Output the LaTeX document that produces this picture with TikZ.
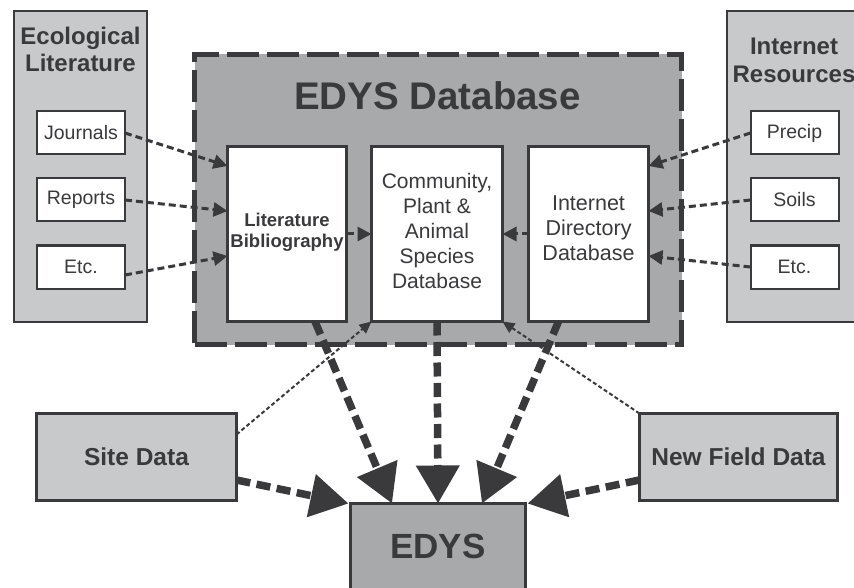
\documentclass[tikz,border=0pt]{standalone}
\usepackage{fontspec}
\setmainfont{Liberation Sans}
\usetikzlibrary{arrows.meta}
\definecolor{dk}{HTML}{3A3A3C}
\definecolor{lightg}{HTML}{C8C9CB}
\definecolor{midg}{HTML}{A8A9AB}
\tikzset{
  panel/.style={draw=dk, line width=2.5pt, fill=lightg, inner sep=0pt, outer sep=0pt},
  srcbox/.style={draw=dk, line width=2pt, fill=white, minimum width=88pt, minimum height=43pt,
    inner sep=0pt, outer sep=0pt, font=\fontsize{19.5}{22}\selectfont, text=dk},
  dbbox/.style={draw=dk, line width=3pt, fill=white, inner sep=0pt, outer sep=0pt, minimum height=175pt},
  txt/.style={text=dk, inner sep=0pt, align=center},
  smallarr/.style={draw=dk, line width=3pt, dash pattern=on 7pt off 4pt, -{Triangle[length=14pt,width=14pt]}},
  thinarr/.style={draw=dk, line width=2pt, dash pattern=on 4pt off 2.5pt, -{Triangle[length=12pt,width=11pt]}},
  bigarr/.style={draw=dk, line width=7.5pt, dash pattern=on 14pt off 6.5pt, -{Triangle[length=38pt,width=42pt]}},
}
\begin{document}
\begin{tikzpicture}[x=1pt,y=-1pt]
\useasboundingbox (0,0) rectangle (854,588);
\fill[white] (0,0) rectangle (854,588);

% left panel
\node[panel, minimum width=133pt, minimum height=311pt] (eco) at (80.5,166.5) {};
\node[txt, font=\bfseries\fontsize{24}{27}\selectfont] (ecoT) at (80.5,49.75) {Ecological\\Literature};
\node[srcbox] (j) at (81,133) {Journals};
\node[srcbox] (r) at (81,200) {Reports};
\node[srcbox] (e1) at (81,267) {Etc.};

% right panel
\node[panel, minimum width=140pt, minimum height=311pt] (inr) at (797,166.5) {};
\node[txt, font=\bfseries\fontsize{24}{28}\selectfont] (inrT) at (794,60.25) {Internet\\Resources};
\node[srcbox] (p) at (794.5,133) {Precip};
\node[srcbox] (s) at (794.5,200) {Soils};
\node[srcbox] (e2) at (794.5,267) {Etc.};

% database
\node[draw=dk, line width=5pt, dash pattern=on 32pt off 8pt, fill=midg, minimum width=487pt, minimum height=290pt, inner sep=0pt, outer sep=0pt] (db) at (438,199.5) {};
\node[text=dk, inner sep=0pt, anchor=base, font=\bfseries\fontsize{38.5}{40}\selectfont] (dbT) at (437.5,110) {EDYS Database};

\node[dbbox, minimum width=119pt] (lit) at (287,234) {};
\node[txt, font=\bfseries\fontsize{18.5}{21}\selectfont] (litT) at (287,232.7) {Literature\\Bibliography};
\node[dbbox, minimum width=131pt] (com) at (437,234) {};
\node[txt, font=\fontsize{21}{25}\selectfont] (comT) at (437,230.5) {Community,\\Plant \&\\Animal\\Species\\Database};
\node[dbbox, minimum width=120pt] (idb) at (588.5,234) {};
\node[txt, font=\fontsize{21.5}{25}\selectfont] (idbT) at (588.5,228.7) {Internet\\Directory\\Database};

% bottom boxes
\node[panel, line width=3pt, minimum width=200pt, minimum height=87pt] (sd) at (136.5,457) {};
\node[txt, font=\bfseries\fontsize{24.5}{27}\selectfont] (sdT) at (136.5,457) {Site Data};
\node[panel, line width=3pt, minimum width=198pt, minimum height=87pt] (nf) at (738.5,457) {};
\node[txt, font=\bfseries\fontsize{24.5}{27}\selectfont] (nfT) at (738.5,457) {New Field Data};
\node[panel, line width=3pt, fill=midg, minimum width=175pt, minimum height=100pt] (edys) at (438,553.5) {};
\node[text=dk, inner sep=0pt, anchor=base, font=\bfseries\fontsize{35}{38}\selectfont] (edysT) at (438,558) {EDYS};

% source arrows
\draw[smallarr] (j.east) -- ([yshift=68pt]lit.west);
\draw[smallarr] (r.east) -- ([yshift=23pt]lit.west);
\draw[smallarr] ([yshift=-8pt]e1.east) -- ([yshift=-22pt]lit.west);
\draw[smallarr] (p.west) -- ([yshift=68pt]idb.east);
\draw[smallarr] (s.west) -- ([yshift=23pt]idb.east);
\draw[smallarr] (e2.west) -- ([yshift=-22pt]idb.east);
\draw[smallarr] (lit.east) -- (com.west);
\draw[smallarr] (idb.west) -- (com.east);

% thin arrows
\draw[thinarr] ([yshift=-21pt]sd.north east) -- (com.south west);
\draw[thinarr] (nf.north west) -- (com.south east);

% big arrows
\draw[bigarr] ([xshift=28pt]lit.south) -- ([xshift=-46pt]edys.north);
\draw[bigarr] (com.south) -- ([xshift=0pt]edys.north);
\draw[bigarr] ([xshift=-30pt]idb.south) -- ([xshift=44pt]edys.north);
\draw[bigarr] ([yshift=-23pt]sd.east) -- ([xshift=-2pt]edys.north west);
\draw[bigarr] ([yshift=-23pt]nf.west) -- ([xshift=2pt]edys.north east);
\end{tikzpicture}
\end{document}
